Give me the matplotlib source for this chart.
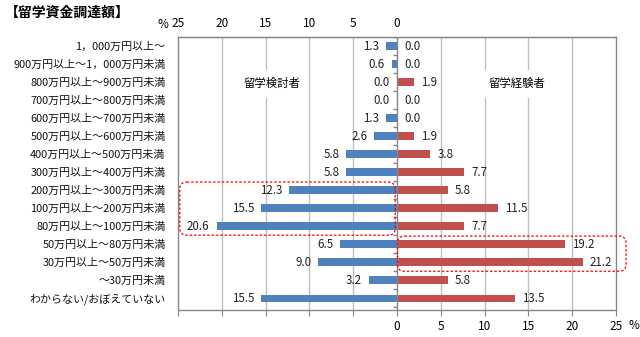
import matplotlib
matplotlib.use("Agg")
import matplotlib.pyplot as plt
from matplotlib.patches import FancyBboxPatch
import numpy as np

plt.rcParams['font.family'] = ['Noto Sans CJK JP', 'DejaVu Sans']

title = "【留学資金調達額】"
categories = [
    "1，000万円以上～",
    "900万円以上～1，000万円未満",
    "800万円以上～900万円未満",
    "700万円以上～800万円未満",
    "600万円以上～700万円未満",
    "500万円以上～600万円未満",
    "400万円以上～500万円未満",
    "300万円以上～400万円未満",
    "200万円以上～300万円未満",
    "100万円以上～200万円未満",
    "80万円以上～100万円未満",
    "50万円以上～80万円未満",
    "30万円以上～50万円未満",
    "～30万円未満",
    "わからない/おぼえていない",
]
considering = [1.3, 0.6, 0.0, 0.0, 1.3, 2.6, 5.8, 5.8, 12.3, 15.5, 20.6, 6.5, 9.0, 3.2, 15.5]
experienced = [0.0, 0.0, 1.9, 0.0, 0.0, 1.9, 3.8, 7.7, 5.8, 11.5, 7.7, 19.2, 21.2, 5.8, 13.5]
series_names = ["留学検討者", "留学経験者"]
top_ticks = [25, 20, 15, 10, 5, 0]
bottom_ticks = [0, 5, 10, 15, 20, 25]

blue = '#4F81BD'
red = '#C0504D'
grid_c = '#BFBFBF'
axis_c = '#868686'

fig = plt.figure(figsize=(6.4, 3.37), dpi=100)
ax = fig.add_axes([178/640, 1-310/337, (616-178)/640, (310-37)/337])

y = np.arange(len(categories))
h = 0.42
ax.barh(y, [-v for v in considering], height=h, color=blue, zorder=3)
ax.barh(y, experienced, height=h, color=red, zorder=3)

fs = 8.3
for yi, v in zip(y, considering):
    ax.annotate(f"{v:.1f}", (-v, yi), xytext=(-5, 0), textcoords='offset points',
                ha='right', va='center', fontsize=fs, color='#222222')
for yi, v in zip(y, experienced):
    ax.annotate(f"{v:.1f}", (v, yi), xytext=(5, 0), textcoords='offset points',
                ha='left', va='center', fontsize=fs, color='#222222')

ax.set_xlim(-25, 25)
ax.set_ylim(len(categories) - 0.35, -0.5)
ax.set_yticks(y)
ax.set_yticklabels(categories, fontsize=7.9, color='#111111')
ax.tick_params(axis='y', length=0, pad=9)

# gridlines
for gx in range(-20, 25, 5):
    if gx == 0:
        continue
    ax.axvline(gx, color=grid_c, lw=1, zorder=1)
ax.axvline(0, color=axis_c, lw=1, zorder=4)
ax.hlines(np.arange(len(categories) + 1) - 0.5, -0.45, 0, color=axis_c, lw=1, zorder=4)

for s in ax.spines.values():
    s.set_color(axis_c)
    s.set_linewidth(1)

# bottom axis
ax.set_xticks(list(range(-25, 30, 5)))
ax.set_xticklabels(['' if t < 0 else str(t) for t in range(-25, 30, 5)], fontsize=8.5)
ax.tick_params(axis='x', bottom=True, length=4, color=axis_c, pad=3)
ax.annotate("%", (25, 0), xycoords=('data', 'axes fraction'), xytext=(9, -11.5),
            textcoords='offset points', ha='left', va='center', fontsize=8.5)

# top axis
sec = ax.secondary_xaxis('top')
sec.set_xticks([-t for t in top_ticks])
sec.set_xticklabels([str(t) for t in top_ticks], fontsize=8.5)
sec.tick_params(length=0, pad=5)
sec.spines['top'].set_color(axis_c)
ax.annotate("%", (-25, 1), xycoords=('data', 'axes fraction'), xytext=(-7, 9),
            textcoords='offset points', ha='right', va='center', fontsize=8.5)

# series names
ax.text(-14.3, 2.1, series_names[0], ha='center', va='center', fontsize=8.2, zorder=2,
        bbox=dict(facecolor='white', edgecolor='none', pad=6))
ax.text(13.7, 2.1, series_names[1], ha='center', va='center', fontsize=8.2, zorder=2,
        bbox=dict(facecolor='white', edgecolor='none', pad=6))

# dashed highlight boxes
asp = 8.76 / 18.0
b1 = FancyBboxPatch((-24.8, 7.55), 24.6, 2.95, boxstyle="round,pad=0,rounding_size=0.8",
                    mutation_aspect=asp, fill=False, edgecolor='#FF0000', ls=(0, (2, 1.5)), lw=0.9,
                    zorder=5, clip_on=False)
b2 = FancyBboxPatch((0.05, 10.55), 26.1, 1.95, boxstyle="round,pad=0,rounding_size=0.8",
                    mutation_aspect=asp, fill=False, edgecolor='#FF0000', ls=(0, (2, 1.5)), lw=0.9,
                    zorder=5, clip_on=False)
ax.add_patch(b1)
ax.add_patch(b2)

fig.text(5/640, 1-13/337, title, ha='left', va='center', fontsize=10, fontweight='bold')

fig.savefig("out.png", dpi=100)
